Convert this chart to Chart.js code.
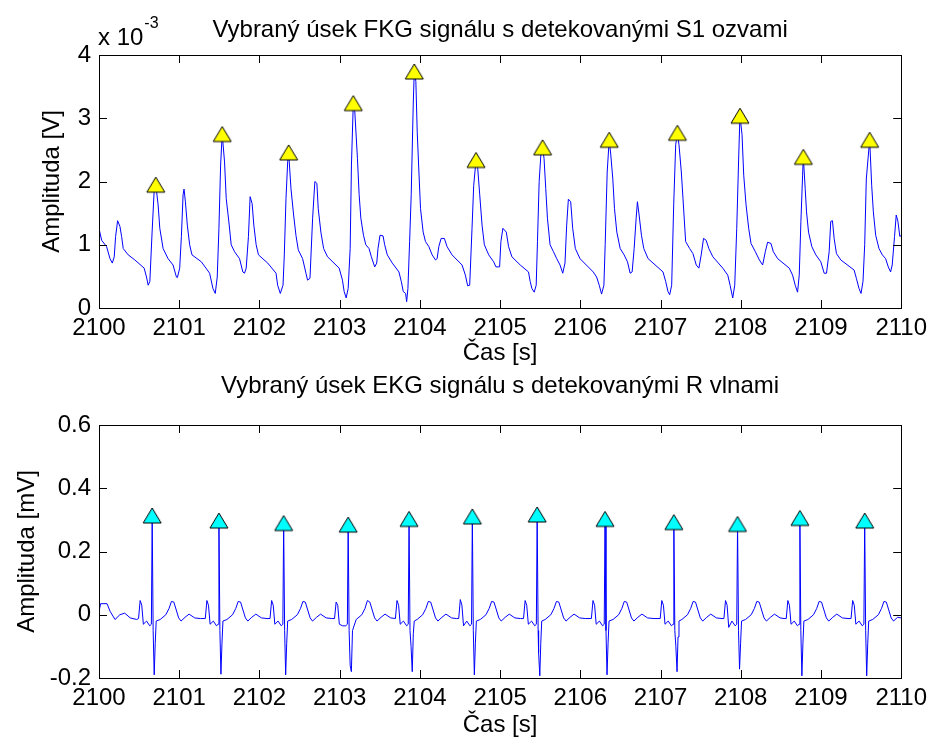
<!DOCTYPE html>
<html>
<head>
<meta charset="utf-8">
<script src="https://cdn.jsdelivr.net/npm/chart.js@4.4.1/dist/chart.umd.min.js"></script>
<style>
  body { margin: 0; background: #fff; overflow: hidden; }
  #wrap { position: relative; width: 933px; height: 744px; }
  canvas { position: absolute; left: 0; }
</style>
</head>
<body>
<div id="wrap">
  <canvas id="fkgChart" width="933" height="372" style="top:0"></canvas>
  <canvas id="ekgChart" width="933" height="404" style="top:340px"></canvas>
</div>
<script>
// time is stored as seconds after startTime
const startTime = 2100;
const endTime = 2110;

// FKG signal, amplitude in 1e-3 V
const fkgSignal = [
  [0.000, 1.47], [0.005, 1.23], [0.033, 1.07], [0.095, 0.97], [0.137, 0.78], [0.166, 0.71],
  [0.190, 0.81], [0.207, 1.13], [0.232, 1.38], [0.261, 1.29], [0.282, 1.13], [0.302, 0.94],
  [0.364, 0.84], [0.447, 0.76], [0.563, 0.63], [0.592, 0.49], [0.613, 0.36], [0.634, 0.42],
  [0.662, 1.20], [0.687, 1.84], [0.708, 1.95], [0.737, 1.63], [0.758, 1.26], [0.799, 0.94],
  [0.861, 0.78], [0.923, 0.68], [0.965, 0.49], [0.977, 0.48], [1.006, 0.63], [1.027, 1.13],
  [1.048, 1.79], [1.060, 1.88], [1.077, 1.68], [1.101, 1.31], [1.130, 1.00], [1.159, 0.84],
  [1.276, 0.73], [1.379, 0.55], [1.420, 0.31], [1.449, 0.23], [1.474, 0.49], [1.495, 1.26],
  [1.516, 2.26], [1.536, 2.75], [1.565, 2.31], [1.586, 1.73], [1.619, 1.36], [1.648, 1.00],
  [1.690, 0.89], [1.752, 0.78], [1.793, 0.57], [1.814, 0.55], [1.835, 0.63], [1.863, 1.13],
  [1.884, 1.76], [1.909, 1.65], [1.930, 1.31], [1.959, 1.00], [1.988, 0.84], [2.103, 0.71],
  [2.207, 0.55], [2.227, 0.36], [2.260, 0.23], [2.294, 0.36], [2.310, 0.84], [2.331, 1.73],
  [2.352, 2.31], [2.364, 2.46], [2.393, 1.89], [2.426, 1.47], [2.455, 1.15], [2.484, 0.92],
  [2.538, 0.78], [2.580, 0.55], [2.600, 0.44], [2.630, 0.47], [2.663, 1.42], [2.691, 2.00],
  [2.716, 1.97], [2.733, 1.57], [2.766, 1.20], [2.800, 0.94], [2.849, 0.81], [2.994, 0.63],
  [3.035, 0.44], [3.056, 0.26], [3.081, 0.16], [3.106, 0.31], [3.131, 0.94], [3.147, 2.26],
  [3.170, 3.24], [3.189, 3.10], [3.222, 2.36], [3.243, 1.79], [3.264, 1.42], [3.297, 1.15],
  [3.326, 1.00], [3.366, 0.94], [3.395, 0.81], [3.437, 0.65], [3.462, 0.71], [3.478, 0.94],
  [3.503, 1.15], [3.541, 1.14], [3.561, 1.00], [3.594, 0.84], [3.656, 0.71], [3.739, 0.57],
  [3.768, 0.42], [3.793, 0.26], [3.822, 0.23], [3.835, 0.10], [3.851, 0.31], [3.872, 1.05],
  [3.892, 1.79], [3.917, 3.21], [3.930, 3.74], [3.950, 3.58], [3.967, 2.78], [3.988, 2.15],
  [4.008, 1.57], [4.041, 1.20], [4.070, 1.05], [4.112, 0.97], [4.153, 0.84], [4.195, 0.76],
  [4.215, 0.78], [4.236, 0.97], [4.265, 1.10], [4.305, 1.10], [4.339, 0.97], [4.401, 0.84],
  [4.526, 0.68], [4.567, 0.52], [4.596, 0.35], [4.621, 0.36], [4.650, 1.26], [4.671, 1.94],
  [4.700, 2.34], [4.721, 2.21], [4.746, 1.79], [4.775, 1.31], [4.804, 1.00], [4.858, 0.84],
  [4.920, 0.73], [4.948, 0.65], [4.994, 0.65], [5.010, 1.05], [5.035, 1.26], [5.077, 1.20],
  [5.106, 0.97], [5.147, 0.81], [5.251, 0.68], [5.354, 0.57], [5.375, 0.42], [5.396, 0.31],
  [5.425, 0.25], [5.450, 0.36], [5.466, 1.05], [5.487, 2.00], [5.508, 2.42], [5.530, 2.54],
  [5.548, 2.36], [5.569, 1.89], [5.590, 1.42], [5.623, 1.00], [5.665, 0.89], [5.706, 0.78],
  [5.747, 0.68], [5.781, 0.55], [5.809, 0.71], [5.830, 1.31], [5.851, 1.72], [5.880, 1.68],
  [5.905, 1.26], [5.938, 0.94], [5.996, 0.78], [6.161, 0.57], [6.203, 0.49], [6.236, 0.36],
  [6.265, 0.22], [6.294, 0.36], [6.310, 1.00], [6.335, 2.15], [6.360, 2.66], [6.380, 2.42],
  [6.405, 2.04], [6.426, 1.57], [6.455, 1.20], [6.497, 0.94], [6.546, 0.84], [6.588, 0.73],
  [6.621, 0.55], [6.646, 0.57], [6.671, 0.94], [6.696, 1.42], [6.712, 1.68], [6.733, 1.47],
  [6.762, 1.15], [6.791, 0.94], [6.845, 0.78], [7.031, 0.57], [7.064, 0.42], [7.093, 0.26],
  [7.114, 0.21], [7.139, 0.36], [7.164, 1.63], [7.189, 2.58], [7.210, 2.77], [7.230, 2.58],
  [7.259, 2.15], [7.280, 1.73], [7.313, 1.05], [7.363, 0.94], [7.404, 0.86], [7.445, 0.68],
  [7.478, 0.63], [7.507, 0.84], [7.536, 1.10], [7.569, 1.07], [7.602, 0.94], [7.652, 0.81],
  [7.776, 0.63], [7.838, 0.52], [7.867, 0.36], [7.900, 0.16], [7.925, 0.36], [7.950, 1.26],
  [7.975, 2.42], [7.990, 3.04], [8.016, 2.74], [8.037, 2.10], [8.066, 1.63], [8.099, 1.26],
  [8.128, 1.02], [8.182, 0.89], [8.232, 0.76], [8.273, 0.68], [8.306, 0.89], [8.335, 1.04],
  [8.377, 1.02], [8.406, 0.89], [8.460, 0.78], [8.605, 0.63], [8.646, 0.52], [8.679, 0.36],
  [8.708, 0.25], [8.729, 0.52], [8.750, 1.37], [8.771, 2.10], [8.780, 2.39], [8.803, 1.89],
  [8.820, 1.52], [8.845, 1.20], [8.886, 0.97], [8.936, 0.84], [8.998, 0.73], [9.040, 0.55],
  [9.069, 0.55], [9.102, 0.89], [9.122, 1.37], [9.143, 1.38], [9.164, 1.10], [9.193, 0.86],
  [9.247, 0.76], [9.413, 0.60], [9.441, 0.47], [9.474, 0.31], [9.499, 0.23], [9.524, 0.42],
  [9.545, 1.00], [9.565, 2.04], [9.607, 2.66], [9.632, 1.94], [9.653, 1.52], [9.682, 1.15],
  [9.723, 0.94], [9.765, 0.84], [9.806, 0.78], [9.839, 0.65], [9.868, 0.57], [9.888, 0.68],
  [9.917, 1.13], [9.938, 1.47], [9.959, 1.37], [9.983, 1.13], [10.000, 1.15]
];

// detected S1 sounds
const s1Times = [0.708, 1.536, 2.364, 3.170, 3.930, 4.700, 5.530, 6.360, 7.210, 7.990, 8.780, 9.607];
const s1Values = [1.95, 2.75, 2.46, 3.24, 3.74, 2.34, 2.54, 2.66, 2.77, 3.04, 2.39, 2.66];

// EKG signal, amplitude in mV
const ekgSignal = [
  [0.000, 0.010], [0.020, 0.035], [0.100, 0.035], [0.140, 0.010], [0.200, -0.015], [0.260, 0.000],
  [0.320, 0.005], [0.390, -0.010], [0.470, -0.015],
  [0.493, -0.012], [0.513, 0.045], [0.533, 0.030], [0.553, -0.030], [0.593, -0.020], [0.633, -0.035],
  [0.653, -0.030], [0.663, 0.314], [0.675, -0.050], [0.688, -0.190], [0.701, -0.090], [0.713, -0.020],
  [0.763, -0.015], [0.833, 0.000], [0.873, 0.020], [0.903, 0.042], [0.933, 0.040], [0.963, 0.015],
  [0.993, -0.010], [1.023, -0.020], [1.073, -0.008], [1.123, 0.002], [1.193, -0.010], [1.263, -0.012],
  [1.325, -0.012], [1.345, 0.045], [1.365, 0.030], [1.385, -0.030], [1.425, -0.020], [1.465, -0.035],
  [1.485, -0.030], [1.495, 0.298], [1.507, -0.050], [1.520, -0.188], [1.533, -0.090], [1.545, -0.020],
  [1.595, -0.015], [1.665, 0.000], [1.705, 0.020], [1.735, 0.042], [1.765, 0.040], [1.795, 0.015],
  [1.825, -0.010], [1.855, -0.020], [1.905, -0.008], [1.955, 0.002], [2.025, -0.010], [2.095, -0.012],
  [2.132, -0.012], [2.152, 0.045], [2.172, 0.030], [2.192, -0.030], [2.232, -0.020], [2.272, -0.035],
  [2.292, -0.030], [2.302, 0.290], [2.314, -0.050], [2.327, -0.190], [2.340, -0.090], [2.352, -0.020],
  [2.402, -0.015], [2.472, 0.000], [2.512, 0.020], [2.542, 0.042], [2.572, 0.040], [2.602, 0.015],
  [2.632, -0.010], [2.662, -0.020], [2.712, -0.008], [2.762, 0.002], [2.832, -0.010], [2.902, -0.012],
  [2.936, -0.012], [2.956, 0.040], [2.976, 0.030], [2.996, -0.030], [3.036, -0.035], [3.076, -0.035],
  [3.096, -0.030], [3.106, 0.285], [3.118, -0.050], [3.131, -0.160], [3.146, -0.180], [3.160, -0.050],
  [3.206, -0.015], [3.276, 0.000], [3.316, 0.020], [3.346, 0.045], [3.376, 0.040], [3.406, 0.015],
  [3.436, -0.010], [3.466, -0.020], [3.516, -0.008], [3.566, 0.002], [3.636, -0.010],
  [3.695, -0.012], [3.715, 0.045], [3.735, 0.030], [3.755, -0.030], [3.795, -0.020], [3.835, -0.035],
  [3.855, -0.030], [3.865, 0.303], [3.877, -0.050], [3.890, -0.100], [3.905, -0.180], [3.918, -0.060],
  [3.930, -0.020], [3.965, -0.015], [4.035, 0.000], [4.075, 0.020], [4.105, 0.042], [4.135, 0.040],
  [4.165, 0.015], [4.195, -0.010], [4.225, -0.020], [4.275, -0.008], [4.325, 0.002], [4.395, -0.010],
  [4.454, -0.012],
  [4.484, -0.012], [4.504, 0.048], [4.524, 0.030], [4.544, -0.035], [4.584, -0.020], [4.624, -0.035],
  [4.644, -0.030], [4.654, 0.311], [4.666, -0.050], [4.679, -0.190], [4.692, -0.090], [4.704, -0.020],
  [4.754, -0.015], [4.824, 0.000], [4.864, 0.020], [4.894, 0.042], [4.924, 0.040], [4.954, 0.015],
  [4.984, -0.010], [5.014, -0.020], [5.064, -0.008], [5.114, 0.002], [5.184, -0.010], [5.254, -0.012],
  [5.292, -0.012], [5.312, 0.045], [5.332, 0.030], [5.352, -0.030], [5.392, -0.020], [5.432, -0.035],
  [5.452, -0.030], [5.462, 0.317], [5.474, -0.050], [5.480, -0.120], [5.495, -0.193], [5.507, -0.090],
  [5.519, -0.020], [5.562, -0.015], [5.632, 0.000], [5.672, 0.020], [5.702, 0.042], [5.732, 0.040],
  [5.762, 0.015], [5.792, -0.010], [5.822, -0.020], [5.872, -0.008], [5.922, 0.002], [5.992, -0.010],
  [6.062, -0.012],
  [6.138, -0.012], [6.158, 0.045], [6.178, 0.030], [6.198, -0.030], [6.238, -0.020], [6.278, -0.035],
  [6.298, -0.030], [6.308, 0.303], [6.320, -0.050], [6.333, -0.190], [6.346, -0.090], [6.358, -0.020],
  [6.408, -0.015], [6.478, 0.000], [6.518, 0.020], [6.548, 0.042], [6.578, 0.040], [6.608, 0.015],
  [6.638, -0.010], [6.668, -0.020], [6.718, -0.008], [6.768, 0.002], [6.838, -0.010], [6.918, -0.012],
  [6.996, -0.012], [7.016, 0.045], [7.036, 0.030], [7.056, -0.030], [7.096, -0.020], [7.136, -0.035],
  [7.156, -0.030], [7.166, 0.293], [7.178, -0.050], [7.191, -0.100], [7.206, -0.180], [7.218, -0.070],
  [7.230, -0.020], [7.266, -0.015], [7.336, 0.000], [7.376, 0.020], [7.406, 0.042], [7.436, 0.040],
  [7.466, 0.015], [7.496, -0.010], [7.526, -0.020], [7.576, -0.008], [7.626, 0.002], [7.696, -0.010],
  [7.766, -0.012],
  [7.790, -0.012], [7.810, 0.045], [7.830, 0.030], [7.850, -0.040], [7.890, -0.020], [7.930, -0.035],
  [7.950, -0.030], [7.960, 0.287], [7.972, -0.050], [7.985, -0.172], [7.998, -0.090], [8.010, -0.020],
  [8.060, -0.015], [8.130, 0.000], [8.170, 0.020], [8.200, 0.042], [8.230, 0.040], [8.260, 0.015],
  [8.290, -0.010], [8.320, -0.020], [8.370, -0.008], [8.420, 0.002], [8.490, -0.010], [8.540, -0.012],
  [8.567, -0.012], [8.587, 0.045], [8.607, 0.030], [8.627, -0.030], [8.667, -0.020], [8.707, -0.035],
  [8.727, -0.030], [8.737, 0.306], [8.749, -0.050], [8.762, -0.193], [8.775, -0.090], [8.787, -0.020],
  [8.837, -0.015], [8.907, 0.000], [8.947, 0.020], [8.977, 0.042], [9.007, 0.040], [9.037, 0.015],
  [9.067, -0.010], [9.097, -0.020], [9.147, -0.008], [9.197, 0.002], [9.267, -0.010], [9.337, -0.012],
  [9.375, -0.012], [9.395, 0.045], [9.415, 0.030], [9.435, -0.030], [9.475, -0.020], [9.515, -0.035],
  [9.535, -0.030], [9.545, 0.298], [9.557, -0.050], [9.570, -0.193], [9.583, -0.090], [9.595, -0.020],
  [9.645, -0.015], [9.715, 0.000], [9.755, 0.020], [9.785, 0.042], [9.815, 0.040], [9.845, 0.015],
  [9.875, -0.010], [9.905, -0.020], [9.955, -0.008], [10.000, -0.010]
];

// detected R waves
const rTimes = [0.663, 1.495, 2.302, 3.106, 3.865, 4.654, 5.462, 6.308, 7.166, 7.960, 8.737, 9.545];
const rValues = [0.314, 0.298, 0.290, 0.285, 0.303, 0.311, 0.317, 0.303, 0.293, 0.287, 0.306, 0.298];

const fontFamily = "'Liberation Sans', Arial, sans-serif";
const fontSize = 24;

Chart.defaults.color = '#000';
Chart.defaults.font.family = fontFamily;
Chart.defaults.font.size = fontSize;

function triangle(fill) {
  const c = document.createElement('canvas');
  c.width = 22;
  c.height = 19;
  const g = c.getContext('2d');
  g.beginPath();
  g.moveTo(11, 2);
  g.lineTo(20, 17);
  g.lineTo(2, 17);
  g.closePath();
  g.fillStyle = fill;
  g.fill();
  g.strokeStyle = '#000';
  g.lineWidth = 1;
  g.stroke();
  return c;
}

// MATLAB style box with inward ticks on all four sides
const boxTicks = {
  id: 'boxTicks',
  afterDatasetsDraw(chart) {
    const {ctx, chartArea: a, scales: {x, y}} = chart;
    const len = 8;
    ctx.save();
    ctx.strokeStyle = '#000';
    ctx.lineWidth = 1;
    ctx.beginPath();
    x.ticks.forEach(t => {
      const px = Math.round(x.getPixelForValue(t.value)) + 0.5;
      ctx.moveTo(px, a.top);
      ctx.lineTo(px, a.top + len);
      ctx.moveTo(px, a.bottom);
      ctx.lineTo(px, a.bottom - len);
    });
    y.ticks.forEach(t => {
      const py = Math.round(y.getPixelForValue(t.value)) + 0.5;
      ctx.moveTo(a.left, py);
      ctx.lineTo(a.left + len, py);
      ctx.moveTo(a.right, py);
      ctx.lineTo(a.right - len, py);
    });
    ctx.stroke();
    ctx.strokeRect(Math.round(a.left) + 0.5, Math.round(a.top) + 0.5,
      Math.round(a.right - a.left), Math.round(a.bottom - a.top));
    ctx.restore();
  }
};

// "x 10^-3" multiplier above the FKG axis
const exponentLabel = {
  id: 'exponentLabel',
  afterDraw(chart) {
    const ctx = chart.ctx;
    ctx.save();
    ctx.fillStyle = '#000';
    ctx.textBaseline = 'alphabetic';
    ctx.font = fontSize + 'px ' + fontFamily;
    const base = 'x 10';
    ctx.fillText(base, 98, 45);
    const w = ctx.measureText(base).width;
    ctx.font = '16px ' + fontFamily;
    ctx.fillText('-3', 98 + w + 1, 28);
    ctx.restore();
  }
};

function makeChart(id, cfg) {
  const ctx = document.getElementById(id).getContext('2d');
  const lineData = cfg.signal.map(p => ({x: startTime + p[0], y: p[1]}));
  const markData = cfg.markTimes.map((t, i) => ({x: startTime + t, y: cfg.markValues[i]}));
  return new Chart(ctx, {
    type: 'line',
    data: {
      datasets: [
        {
          data: markData,
          showLine: false,
          pointStyle: triangle(cfg.markColor),
          pointRadius: 9,
          pointHoverRadius: 9
        },
        {
          data: lineData,
          borderColor: '#0000ff',
          borderWidth: 1,
          pointRadius: 0,
          tension: 0,
          fill: false
        }
      ]
    },
    options: {
      responsive: false,
      animation: false,
      events: [],
      layout: {padding: {left: 0, right: 29, top: 0, bottom: 0}},
      plugins: {
        legend: {display: false},
        tooltip: {enabled: false},
        title: {
          display: true,
          fullSize: false,
          text: cfg.title,
          font: {size: fontSize, weight: 'normal'},
          padding: cfg.titlePadding
        }
      },
      scales: {
        x: {
          type: 'linear',
          min: startTime,
          max: endTime,
          grid: {display: false, drawTicks: false},
          border: {display: false},
          ticks: {stepSize: 1, padding: 6, maxRotation: 0, autoSkip: false,
            callback: v => String(v)},
          title: {display: true, text: 'Čas [s]', padding: {top: 0, bottom: 4.6}},
          afterFit: s => { s.height = cfg.xHeight; }
        },
        y: {
          min: cfg.yMin,
          max: cfg.yMax,
          grid: {display: false, drawTicks: false},
          border: {display: false},
          ticks: {stepSize: cfg.yStep, padding: 8,
            callback: v => { const r = Math.round(v * 10) / 10; return r === 0 ? '0' : String(r); }},
          title: {display: true, text: cfg.yTitle, padding: {top: cfg.yTitlePad, bottom: 0}},
          afterFit: s => { s.width = 99; }
        }
      }
    },
    plugins: cfg.plugins
  });
}

makeChart('fkgChart', {
  signal: fkgSignal,
  markTimes: s1Times,
  markValues: s1Values,
  markColor: '#ffff00',
  title: 'Vybraný úsek FKG signálu s detekovanými S1 ozvami',
  titlePadding: {top: 15.6, bottom: 10.6},
  yTitle: 'Amplituda [V]',
  yTitlePad: 37.6,
  yMin: 0, yMax: 4, yStep: 1,
  xHeight: 64,
  plugins: [boxTicks, exponentLabel]
});

makeChart('ekgChart', {
  signal: ekgSignal,
  markTimes: rTimes,
  markValues: rValues,
  markColor: '#00ffff',
  title: 'Vybraný úsek EKG signálu s detekovanými R vlnami',
  titlePadding: {top: 32, bottom: 24.2},
  yTitle: 'Amplituda [mV]',
  yTitlePad: 12.6,
  yMin: -0.2, yMax: 0.6, yStep: 0.2,
  xHeight: 66,
  plugins: [boxTicks]
});
</script>
</body>
</html>
